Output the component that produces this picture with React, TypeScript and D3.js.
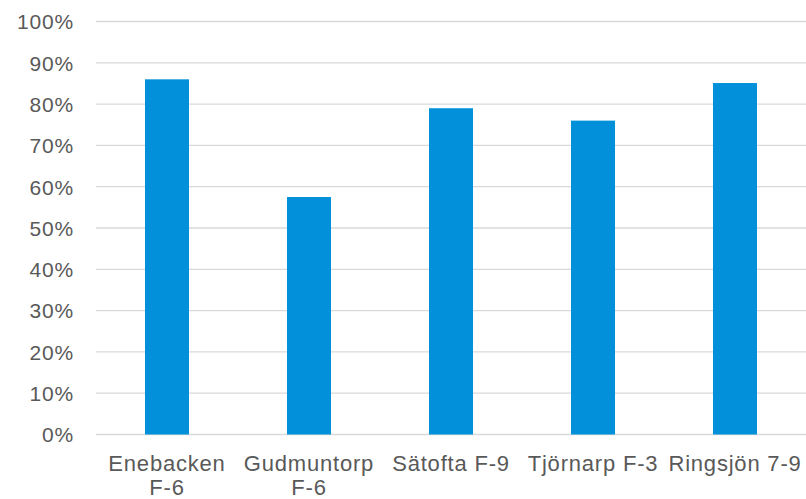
import React, { useEffect, useRef } from "react";
import * as d3 from "d3";

const categories = ["Enebacken F-6", "Gudmuntorp F-6", "Sätofta F-9", "Tjörnarp F-3", "Ringsjön 7-9"];
const values = [0.86, 0.575, 0.79, 0.76, 0.851];
const yTicks = [0, 0.1, 0.2, 0.3, 0.4, 0.5, 0.6, 0.7, 0.8, 0.9, 1.0];

const W = 806;
const H = 499;
const M = { left: 96, right: 0, top: 21.5, bottom: 64.5 };

export default function App() {
  const ref = useRef<SVGSVGElement>(null);

  useEffect(() => {
    const svg = d3.select(ref.current);
    svg.selectAll("*").remove();

    const x = d3.scaleBand<string>().domain(categories).range([M.left, W - M.right]).paddingInner(0.69).paddingOuter(0.345);
    const y = d3.scaleLinear().domain([0, 1]).range([H - M.bottom, M.top]);

    const font = "'Liberation Sans', Arial, sans-serif";

    // gridlines
    svg.append("g")
      .selectAll("line")
      .data(yTicks)
      .join("line")
      .attr("x1", M.left)
      .attr("x2", W - M.right)
      .attr("y1", (d) => y(d))
      .attr("y2", (d) => y(d))
      .attr("stroke", "#d9d9d9")
      .attr("stroke-width", 1.3);

    // y tick labels
    svg.append("g")
      .selectAll("text")
      .data(yTicks)
      .join("text")
      .attr("x", 74)
      .attr("y", (d) => y(d) + 7.8)
      .attr("text-anchor", "end")
      .attr("font-family", font)
      .attr("font-size", 21)
      .attr("letter-spacing", 0.8)
      .attr("fill", "#595959")
      .text((d) => d3.format(".0%")(d));

    // bars
    svg.append("g")
      .selectAll("rect")
      .data(values)
      .join("rect")
      .attr("x", (_, i) => x(categories[i])!)
      .attr("width", x.bandwidth())
      .attr("y", (d) => y(d))
      .attr("height", (d) => y(0) - y(d))
      .attr("fill", "#0290da");

    // category labels with wrapping
    const step = x.step();
    const labels = svg.append("g")
      .selectAll("text")
      .data(categories)
      .join("text")
      .attr("x", (d) => x(d)! + x.bandwidth() / 2)
      .attr("y", 470.7)
      .attr("text-anchor", "middle")
      .attr("font-family", font)
      .attr("font-size", 22)
      .attr("letter-spacing", 0.8)
      .attr("fill", "#595959");

    labels.each(function (d) {
      const t = d3.select(this);
      const cx = +t.attr("x");
      const words = d.split(" ");
      let line: string[] = [];
      let tspan = t.append("tspan").attr("x", cx).attr("dy", 0);
      for (const w of words) {
        line.push(w);
        tspan.text(line.join(" "));
        const len = (tspan.node() as SVGTSpanElement).getComputedTextLength();
        if (len > step && line.length > 1) {
          line.pop();
          tspan.text(line.join(" "));
          line = [w];
          tspan = t.append("tspan").attr("x", cx).attr("dy", 24.3).text(w);
        }
      }
    });
  }, []);

  return (
    <svg
      ref={ref}
      width={W}
      height={H}
      style={{ position: "absolute", left: 0, top: 0, background: "#fff" }}
    />
  );
}
